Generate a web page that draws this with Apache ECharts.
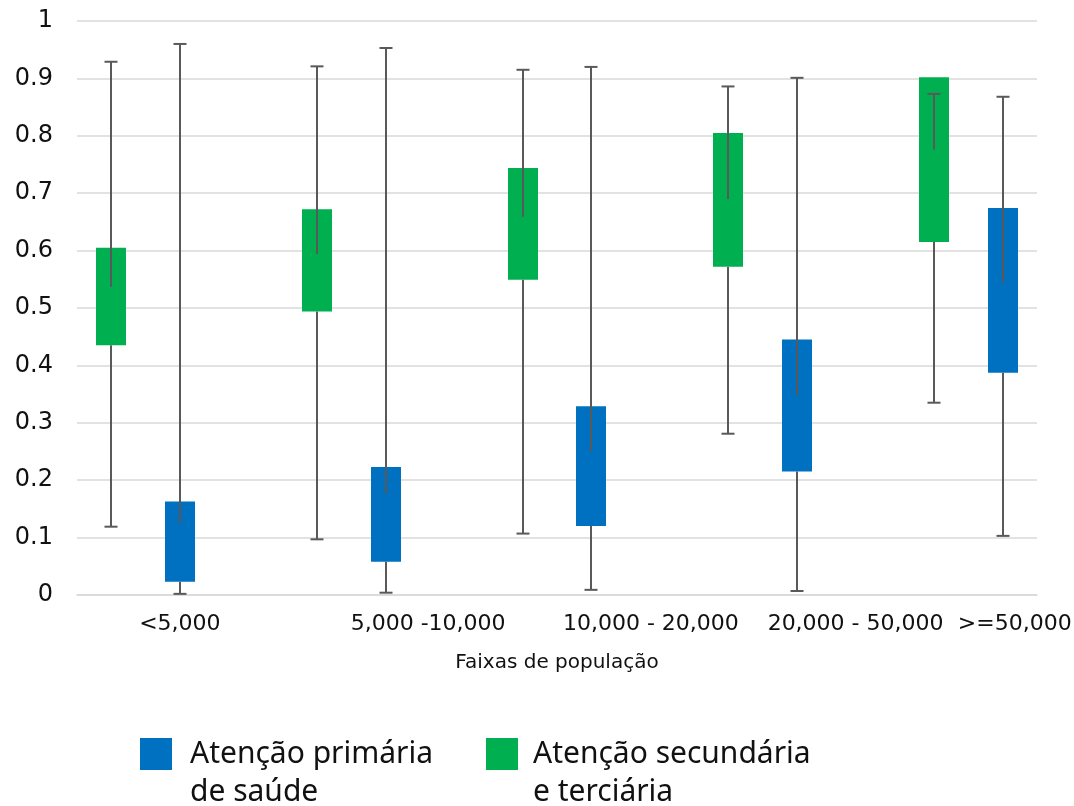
<!DOCTYPE html>
<html>
<head>
<meta charset="utf-8">
<script src="https://cdn.jsdelivr.net/npm/echarts@6/dist/echarts.min.js"></script>
<style>
html,body{margin:0;padding:0;background:#fff;}
#chart{width:1074px;height:806px;}
</style>
</head>
<body>
<div id="chart"></div>
<script>
// ---- data ----
const categories = ['<5,000', '5,000 -10,000', '10,000 - 20,000', '20,000 - 50,000', '>=50,000'];
const yTicks = [0, 0.1, 0.2, 0.3, 0.4, 0.5, 0.6, 0.7, 0.8, 0.9, 1];

const seriesNames = ['Atenção primária\nde saúde', 'Atenção secundária\ne terciária'];

// Atenção primária de saúde (blue)
const primaryMin = [0.002, 0.004, 0.009, 0.007, 0.103];
const primaryQ1  = [0.023, 0.058, 0.120, 0.215, 0.387];
const primaryMed = [0.124, 0.177, 0.250, 0.347, 0.544];
const primaryQ3  = [0.163, 0.223, 0.329, 0.445, 0.674];
const primaryMax = [0.960, 0.953, 0.920, 0.901, 0.868];

// Atenção secundária e terciária (green)
const secondaryMin = [0.119, 0.097, 0.107, 0.281, 0.335];
const secondaryQ1  = [0.435, 0.494, 0.549, 0.572, 0.615];
const secondaryMed = [0.537, 0.594, 0.659, 0.690, 0.776];
const secondaryQ3  = [0.605, 0.672, 0.744, 0.805, 0.902];
const secondaryMax = [0.929, 0.921, 0.915, 0.886, 0.873];

// ---- layout (Excel-like slot layout: green, blue, gap per group) ----
const slotsPerGroup = 3;
const slotCount = categories.length * slotsPerGroup - 1;
const greenSlot = 0, blueSlot = 1;
const labelSlot = [1, 5, 8, 11, 13];
const labelPad = [[0,0,0,0],[0,52,0,0],[0,18,0,0],[0,20,0,0],[0,0,0,24]];

const slotData = [];
for (let i = 0; i < slotCount; i++) {
  const ci = labelSlot.indexOf(i);
  if (ci >= 0) slotData.push({value: categories[ci], textStyle: {padding: labelPad[ci]}});
  else slotData.push({value: 's' + i, textStyle: {color: 'transparent'}});
}

function buildData(slot, mn, q1, md, q3, mx) {
  return categories.map((c, i) => [i * slotsPerGroup + slot, mn[i], q1[i], md[i], q3[i], mx[i]]);
}

const WHISKER = '#595959';
function renderBox(color) {
  return function (params, api) {
    const x = api.value(0);
    const pMin = api.coord([x, api.value(1)]);
    const pQ1 = api.coord([x, api.value(2)]);
    const pMed = api.coord([x, api.value(3)]);
    const pQ3 = api.coord([x, api.value(4)]);
    const pMax = api.coord([x, api.value(5)]);
    const cx = Math.round(pMin[0]);
    const bw = 30, cw = 13;
    const ls = {stroke: WHISKER, lineWidth: 2};
    return {
      type: 'group',
      children: [
        {type: 'line', shape: {x1: cx, y1: pMin[1], x2: cx, y2: pQ1[1]}, style: ls},
        {type: 'line', shape: {x1: cx - cw / 2, y1: pMin[1], x2: cx + cw / 2, y2: pMin[1]}, style: ls},
        {type: 'rect', shape: {x: cx - bw / 2, y: pQ3[1], width: bw, height: pQ1[1] - pQ3[1]}, style: {fill: color}},
        {type: 'line', shape: {x1: cx, y1: pMed[1], x2: cx, y2: pMax[1]}, style: ls},
        {type: 'line', shape: {x1: cx - cw / 2, y1: pMax[1], x2: cx + cw / 2, y2: pMax[1]}, style: ls}
      ]
    };
  };
}

const BLUE = '#0070C0', GREEN = '#00B050';

const legendText = {
  fontFamily: 'Noto Sans', fontSize: 30, color: '#111', lineHeight: 38, padding: [0, 0, 0, 13]
};
const legendFormatter = name => '\n' + name;

const chart = echarts.init(document.getElementById('chart'), null, {renderer: 'canvas'});
chart.setOption({
  backgroundColor: '#fff',
  animation: false,
  grid: {left: 77, right: 37, top: 21, bottom: 211, containLabel: false, outerBoundsMode: 'none'},
  legend: [
    {data: [seriesNames[0]], left: 140, top: 697, padding: 0, itemWidth: 32, itemHeight: 32, icon: 'rect',
     textStyle: legendText, formatter: legendFormatter, selectedMode: false},
    {data: [seriesNames[1]], left: 486, top: 697, padding: 0, itemWidth: 32, itemHeight: 32, icon: 'rect',
     textStyle: Object.assign({}, legendText, {padding: [0, 0, 0, 10]}), formatter: legendFormatter, selectedMode: false}
  ],
  xAxis: {
    type: 'category',
    data: slotData,
    boundaryGap: true,
    axisLine: {show: true, lineStyle: {color: '#d9d9d9', width: 1.5}},
    axisTick: {show: false},
    axisLabel: {interval: 0, margin: 18, fontFamily: 'DejaVu Sans', fontSize: 22, color: '#111'},
    name: 'Faixas de população',
    nameLocation: 'middle',
    nameGap: 58,
    nameTextStyle: {fontFamily: 'DejaVu Sans', fontSize: 20, color: '#111'}
  },
  yAxis: {
    type: 'value',
    min: yTicks[0],
    max: yTicks[yTicks.length - 1],
    interval: 0.1,
    axisLine: {show: false},
    axisTick: {show: false},
    splitLine: {lineStyle: {color: '#d9d9d9', width: 1.5}},
    axisLabel: {margin: 24, fontFamily: 'DejaVu Sans', fontSize: 24, color: '#111',
      formatter: v => String(Math.round(v * 10) / 10)}
  },
  series: [
    {
      name: seriesNames[0], type: 'custom', itemStyle: {color: BLUE},
      renderItem: renderBox(BLUE),
      encode: {x: 0, y: [1, 2, 3, 4, 5]},
      data: buildData(blueSlot, primaryMin, primaryQ1, primaryMed, primaryQ3, primaryMax)
    },
    {
      name: seriesNames[1], type: 'custom', itemStyle: {color: GREEN},
      renderItem: renderBox(GREEN),
      encode: {x: 0, y: [1, 2, 3, 4, 5]},
      data: buildData(greenSlot, secondaryMin, secondaryQ1, secondaryMed, secondaryQ3, secondaryMax)
    }
  ]
});
</script>
</body>
</html>
